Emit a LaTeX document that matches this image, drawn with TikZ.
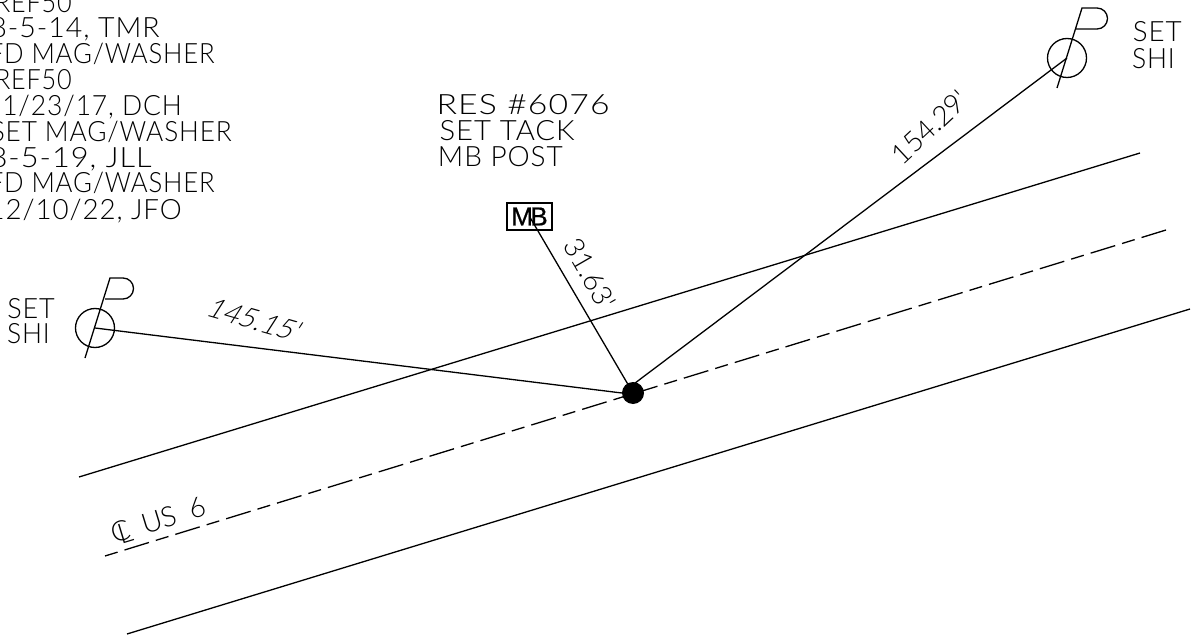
\documentclass[tikz,border=0pt]{standalone}
\usepackage{fontspec}
\setmainfont[UprightFont=* Light,FakeStretch=.9,LetterSpace=3]{Lato}
\newfontfamily\dimfont[UprightFont=* Light]{Lato}
\newfontfamily\boxfont[LetterSpace=-10,FakeBold=.6]{Liberation Sans}
\tikzset{
  caption/.style={anchor=base east,inner sep=0pt,transform shape,font=\fontsize{28}{28}\selectfont},
  dimtext/.style={inner sep=0pt,font=\dimfont\fontsize{28}{28}\selectfont},
  road/.style={line width=1.3pt},
  centerline/.style={line width=1.3pt,dash pattern=on 25.6pt off 7.2pt on 13.2pt off 7.2pt},
  tie/.style={line width=1.3pt},
  target/.style={circle,draw,line width=1.3pt,minimum size=39pt,inner sep=0pt},
  flag/.style={line width=1.3pt},
  postbox/.style={draw,line width=1.8pt,minimum width=45pt,minimum height=27pt,inner sep=0pt,font=\boxfont\fontsize{26}{26}\selectfont},
  monument/.style={circle,fill=black,minimum size=22pt,inner sep=0pt}
}
\begin{document}
\begin{tikzpicture}[x=1pt,y=-1pt]
      \useasboundingbox (0,0) rectangle (1191,639);
      \clip (0,0) rectangle (1191,639);
      % road edges and center line
      \coordinate (upperA) at (79,477);
      \coordinate (upperB) at (1140,153);
      \coordinate (centerA) at (105,556);
      \coordinate (centerB) at (1166,230);
      \coordinate (lowerA) at (127,634);
      \coordinate (lowerB) at (1190,309);
      \draw[road] (upperA) -- (upperB);
      \draw[centerline] (centerB) -- (centerA);
      \draw[road] (lowerA) -- (lowerB);
      % points
      \node[monument] (dot) at (633,393) {};
      \node[postbox] (mb) at (529.5,216.5) {MB};
      \node[target] (shiW) at (95,328) {};
      \node[target] (shiE) at (1067,58) {};
      % flags
      \draw[flag] (85,358) -- (110,278) -- (123,278) arc (-90:90:10.5) -- (105,299);
      \draw[flag] (1057,88) -- (1082,8) -- (1097,8) arc (-90:90:10.5) -- (1075,29);
      % ties
      \draw[tie] (shiW.center) -- (dot.west);
      \draw[tie] (mb.center) -- (dot.center);
      \draw[tie] (shiE.center) -- (dot.west);
      % notes
      \node[caption] (note1) at (72,13) {REF50};
      \node[caption,xscale=1.13] (note2) at (160,38) {8-5-14, TMR};
      \node[caption,xscale=1.02] (note3) at (215,64) {FD MAG/WASHER};
      \node[caption] (note4) at (72,90) {REF50};
      \node[caption,xscale=1.05] (note5) at (182,116) {11/23/17, DCH};
      \node[caption,xscale=1.04] (note6) at (232,142) {SET MAG/WASHER};
      \node[caption,xscale=1.22] (note7) at (152,168) {8-5-19, JLL};
      \node[caption,xscale=1.02] (note8) at (215,193) {FD MAG/WASHER};
      \node[caption,xscale=1.10] (note9) at (182,219) {12/10/22, JFO};
      \node[caption,xscale=1.34] (res1) at (610,115) {RES \#6076};
      \node[caption,xscale=1.16] (res2) at (575,141) {SET TACK};
      \node[caption,xscale=1.11] (res3) at (563,167) {MB POST};
      \node[caption,xscale=1.07] (setW1) at (55,318) {SET};
      \node[caption,xscale=1.05] (setW2) at (50,343) {SHI};
      \node[caption,xscale=1.10] (setE1) at (1182,42) {SET};
      \node[caption,xscale=1.05] (setE2) at (1175,69) {SHI};
      % distances
      \node[dimtext,rotate=-16,xslant=.3,transform shape] (distW) at (255,320) {145.15'};
      \node[dimtext,rotate=-60] (distN) at (590,274) {31.63'};
      \node[dimtext,rotate=43] (distE) at (930,127) {154.29'};
      \node[dimtext,rotate=17] (cl) at (159,521) {\rlap{C}\kern6pt\raisebox{-3pt}{L}\kern12pt US\kern14pt 6};
\end{tikzpicture}
\end{document}
